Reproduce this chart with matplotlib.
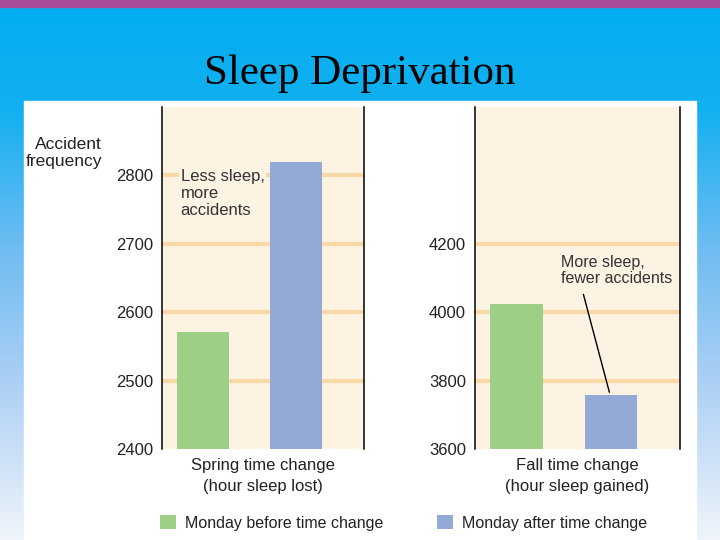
import numpy as np
import matplotlib.pyplot as plt
from matplotlib.patches import Rectangle
from matplotlib.colors import LinearSegmentedColormap

# Data
groups = ['Spring time change\n(hour sleep lost)', 'Fall time change\n(hour sleep gained)']
series = ['Monday before time change', 'Monday after time change']
spring_values = [2571, 2819]
fall_values = [4023, 3758]
spring_ticks = [2400, 2500, 2600, 2700, 2800]
fall_ticks = [3600, 3800, 4000, 4200]
spring_ylim = (2400, 2900)
fall_ylim = (3600, 4600)

green = '#9dcf87'
blue = '#93a9d6'
beige = '#fdf3e3'
grid_col = '#f8d8a6'

plt.rcParams['font.family'] = ['Liberation Sans', 'DejaVu Sans']

fig = plt.figure(figsize=(7.2, 5.4), dpi=100)

# slide background gradient
bg = fig.add_axes([0, 0, 1, 1], zorder=-3)
cmap = LinearSegmentedColormap.from_list(
    'slide', [(0, '#00aeef'), (0.2, '#12b0f0'), (0.45, '#6cbcf2'),
              (0.7, '#aacff4'), (1, '#f0f4fb')])
bg.imshow(np.linspace(0, 1, 256)[:, None], aspect='auto', cmap=cmap,
          extent=[0, 1, 0, 1])
bg.set_axis_off()
fig.patches.append(Rectangle((0, 1 - 7 / 540), 1, 7 / 540, transform=fig.transFigure,
                             color='#ab4b9b', zorder=-2))
fig.patches.append(Rectangle((24 / 720, 0), 672 / 720, 1 - 101 / 540,
                             transform=fig.transFigure, color='white', zorder=-1))

fig.text(0.5, 1 - 74 / 540, 'Sleep Deprivation', ha='center', va='center',
         fontsize=31, family='Liberation Serif')
fig.text(102 / 720, 1 - 153 / 540, 'Accident\nfrequency', ha='right', va='center',
         multialignment='right', fontsize=12.5, linespacing=1.15, color='#222222')


def panel(rect, values, ticks, ylim, label):
    ax = fig.add_axes(rect)
    ax.set_facecolor(beige)
    for t in ticks[1:]:
        ax.axhline(t, color=grid_col, lw=3, zorder=1)
    bars = ax.bar([0, 1], values, width=0.56, color=[green, blue], zorder=2)
    ax.set_xlim(-0.44, 1.73)
    ax.set_ylim(*ylim)
    ax.set_yticks(ticks)
    ax.set_xticks([])
    ax.tick_params(axis='y', length=0, pad=6.5, labelsize=12, labelcolor='#222222')
    for s in ['top', 'bottom']:
        ax.spines[s].set_visible(False)
    for s in ['left', 'right']:
        ax.spines[s].set_linewidth(1.1)
    ax.text(0.5, -0.025, label, transform=ax.transAxes, ha='center', va='top',
            fontsize=12, linespacing=1.5, color='#222222')
    return ax, bars


ax1, b1 = panel([162 / 720, 1 - 449 / 540, 202 / 720, 342 / 540],
                spring_values, spring_ticks, spring_ylim, groups[0])
ax2, b2 = panel([475 / 720, 1 - 449 / 540, 205 / 720, 342 / 540],
                fall_values, fall_ticks, fall_ylim, groups[1])

ax1.text(-0.24, 2810, 'Less sleep,\nmore\naccidents', ha='left', va='top',
         fontsize=12, linespacing=1.2, color='#333333', zorder=3,
         bbox=dict(facecolor=beige, edgecolor='none', pad=1))

ax2.text(0.47, 4168, 'More sleep,\nfewer accidents', ha='left', va='top',
         fontsize=11.5, linespacing=1.1, color='#333333', zorder=3)
ax2.annotate('', xy=(0.99, fall_values[1]), xytext=(0.70, 4060),
             arrowprops=dict(arrowstyle='-', color='black', lw=1), zorder=3)

fig.legend([b1[0], b1[1]], series, loc='center left', ncol=2, frameon=False,
           bbox_to_anchor=(160 / 720, 1 - 523 / 540), borderpad=0, borderaxespad=0,
           handlelength=1.0, handleheight=1.0, handletextpad=0.55,
           columnspacing=3.4, fontsize=11.5, labelcolor='#222222')

fig.savefig('out.png', dpi=100)
